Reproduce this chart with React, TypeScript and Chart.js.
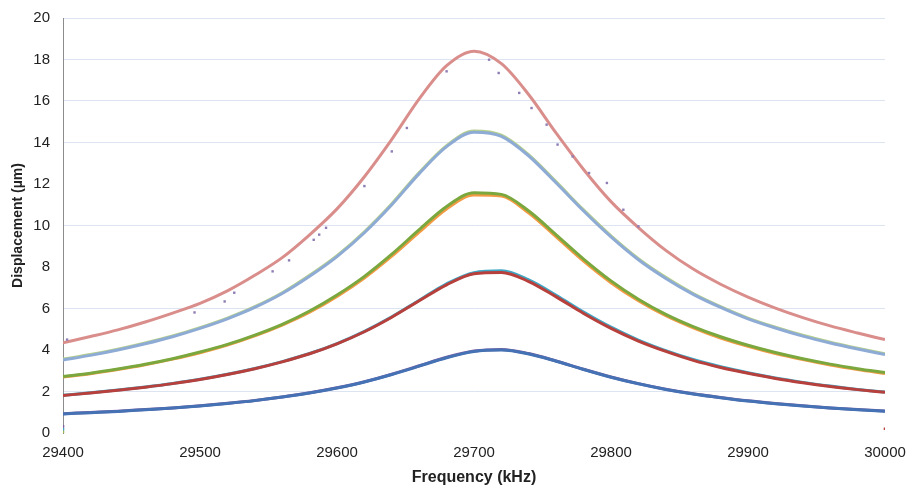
import React, { useEffect, useRef } from "react";
import { Chart, registerables } from "chart.js";

Chart.register(...registerables);

// Frequency samples (kHz)
const FREQ = [
  29400, 29420, 29440, 29460, 29480, 29500, 29520, 29540, 29560, 29580,
  29600, 29620, 29640, 29660, 29680, 29700, 29720, 29740, 29760, 29780,
  29800, 29820, 29840, 29860, 29880, 29900, 29920, 29940, 29960, 29980, 30000,
];

// Displacement (µm) series
const PINK = [
  4.35, 4.65, 4.97, 5.35, 5.78, 6.25, 6.85, 7.6, 8.45, 9.55,
  10.8, 12.35, 14.15, 16.1, 17.7, 18.4, 17.8, 16.3, 14.45, 12.7,
  11.15, 9.9, 8.8, 7.9, 7.17, 6.55, 6.02, 5.56, 5.16, 4.82, 4.5,
];
const LIGHT_BLUE = [
  3.52, 3.74, 4.0, 4.3, 4.64, 5.04, 5.5, 6.05, 6.72, 7.55,
  8.5, 9.65, 11.0, 12.5, 13.8, 14.5, 14.3, 13.35, 12.05, 10.7,
  9.45, 8.35, 7.45, 6.68, 6.05, 5.5, 5.06, 4.67, 4.34, 4.05, 3.78,
];
const LIGHT_GREEN = [
  3.56, 3.78, 4.04, 4.34, 4.68, 5.08, 5.54, 6.09, 6.76, 7.6,
  8.55, 9.7, 11.05, 12.55, 13.85, 14.55, 14.35, 13.4, 12.1, 10.75,
  9.5, 8.4, 7.5, 6.72, 6.09, 5.54, 5.1, 4.71, 4.38, 4.09, 3.82,
];
const GREEN = [
  2.72, 2.88, 3.08, 3.31, 3.58, 3.9, 4.27, 4.72, 5.24, 5.88,
  6.65, 7.55, 8.62, 9.8, 10.92, 11.58, 11.5, 10.7, 9.55, 8.38,
  7.33, 6.45, 5.72, 5.13, 4.64, 4.23, 3.88, 3.58, 3.32, 3.1, 2.91,
];
const ORANGE = [
  2.7, 2.86, 3.06, 3.29, 3.56, 3.87, 4.24, 4.68, 5.2, 5.82,
  6.58, 7.47, 8.52, 9.68, 10.8, 11.47, 11.42, 10.6, 9.45, 8.28,
  7.24, 6.37, 5.65, 5.07, 4.58, 4.18, 3.83, 3.54, 3.28, 3.06, 2.87,
];
const RED = [
  1.81, 1.93, 2.06, 2.21, 2.38, 2.58, 2.82, 3.1, 3.43, 3.82,
  4.3, 4.88, 5.58, 6.37, 7.14, 7.67, 7.74, 7.3, 6.56, 5.76,
  5.04, 4.43, 3.93, 3.5, 3.16, 2.88, 2.63, 2.42, 2.24, 2.09, 1.96,
];
const TEAL = [
  1.82, 1.94, 2.07, 2.22, 2.39, 2.59, 2.83, 3.11, 3.44, 3.83,
  4.31, 4.9, 5.6, 6.4, 7.19, 7.73, 7.82, 7.38, 6.64, 5.83,
  5.1, 4.48, 3.97, 3.54, 3.19, 2.9, 2.65, 2.44, 2.26, 2.1, 1.97,
];
const BLUE = [
  0.92, 0.98, 1.04, 1.12, 1.2, 1.3, 1.42, 1.56, 1.73, 1.93,
  2.17, 2.46, 2.82, 3.22, 3.63, 3.93, 4.0, 3.81, 3.46, 3.06,
  2.69, 2.37, 2.1, 1.88, 1.7, 1.54, 1.41, 1.3, 1.2, 1.12, 1.05,
];
const PURPLE = [
  0.93, 0.99, 1.05, 1.13, 1.21, 1.31, 1.43, 1.57, 1.74, 1.94,
  2.18, 2.47, 2.83, 3.24, 3.65, 3.95, 4.03, 3.83, 3.47, 3.07,
  2.7, 2.38, 2.11, 1.89, 1.71, 1.55, 1.42, 1.31, 1.21, 1.13, 1.06,
];

// Scattered measurement points near the top curve
const SCATTER_X = [
  29403, 29496, 29518, 29525, 29553, 29565, 29583, 29587, 29592, 29620,
  29640, 29651, 29680, 29711, 29718, 29733, 29742, 29753, 29761, 29772,
  29784, 29797, 29809, 29820,
];
const SCATTER_Y = [
  4.5, 5.81, 6.34, 6.76, 7.79, 8.32, 9.31, 9.56, 9.89, 11.9,
  13.57, 14.7, 17.43, 17.99, 17.35, 16.39, 15.66, 14.86, 13.9, 13.33,
  12.53, 12.05, 10.76, 9.96,
];

// Stray points at the axis ends
const STRAY_X = [29400, 29400, 29400, 30000];
const STRAY_Y = [0.32, 0.18, 0.05, 0.2];
const STRAY_COLORS = ["#7a5ea0", "#3fa7c4", "#9bbb59", "#b5403c"];

const X_TICKS = [29400, 29500, 29600, 29700, 29800, 29900, 30000];
const Y_TICKS = [0, 2, 4, 6, 8, 10, 12, 14, 16, 18, 20];
const HIDDEN_GRID = [0, 4, 8, 12];

const toPts = (ys: number[]) => FREQ.map((f, i) => ({ x: f, y: ys[i] }));

function line(label: string, ys: number[], color: string, width = 3) {
  return {
    type: "line" as const,
    label,
    data: toPts(ys),
    borderColor: color,
    backgroundColor: color,
    borderWidth: width,
    pointRadius: 0,
    cubicInterpolationMode: "monotone" as const,
    fill: false,
  };
}

export default function App() {
  const ref = useRef<HTMLCanvasElement | null>(null);

  useEffect(() => {
    if (!ref.current) return;
    const font = "'Liberation Sans', Arial, sans-serif";
    // first dataset is drawn on top
    const chart = new Chart(ref.current, {
      type: "line",
      data: {
        datasets: [
          {
            type: "scatter",
            label: "stray",
            data: STRAY_X.map((x, i) => ({ x, y: STRAY_Y[i] })),
            pointStyle: "rect",
            pointRadius: 1.8,
            pointBackgroundColor: STRAY_COLORS,
            pointBorderWidth: 0,
            showLine: false,
          } as any,
          line("P5", BLUE, "#4472b4", 3),
          line("P5b", PURPLE, "#7a5ea0", 3),
          line("P4", RED, "#b8403c", 3),
          line("P4b", TEAL, "#3fa7c4", 3),
          line("P3", GREEN, "#7aa83e", 3),
          line("P3b", ORANGE, "#f39a45", 3),
          line("P2", LIGHT_BLUE, "#8eabd6", 3),
          line("P2b", LIGHT_GREEN, "#b5cf8c", 3),
          {
            type: "scatter",
            label: "measured",
            data: SCATTER_X.map((x, i) => ({ x, y: SCATTER_Y[i] })),
            pointStyle: "rect",
            pointRadius: 1.7,
            pointBackgroundColor: "#8f7db5",
            pointBorderWidth: 0,
            showLine: false,
          } as any,
          line("P1", PINK, "#d98e8b", 3),
        ],
      },
      options: {
        animation: false,
        responsive: false,
        events: [],
        layout: { padding: { top: 18, right: 24, left: 0, bottom: 0 } },
        plugins: {
          legend: { display: false },
          tooltip: { enabled: false },
        },
        scales: {
          x: {
            type: "linear",
            min: 29400,
            max: 30000,
            afterFit: (s: any) => {
              s.height = 55;
            },
            afterBuildTicks: (s: any) => {
              s.ticks = X_TICKS.map((v) => ({ value: v }));
            },
            grid: {
              display: true,
              drawOnChartArea: false,
              drawTicks: true,
              tickLength: 11,
              tickColor: "rgba(0,0,0,0)",
              color: "rgba(0,0,0,0)",
            },
            border: { display: false },
            ticks: {
              padding: 0,
              color: "#222",
              font: { family: font, size: 15 },
              callback: (v: any) => String(v),
              maxRotation: 0,
              autoSkip: false,
            },
            title: {
              display: true,
              text: "Frequency (kHz)",
              color: "#222",
              font: { family: font, size: 16, weight: "bold" },
              padding: { top: 0, bottom: 1 },
            },
          },
          y: {
            type: "linear",
            min: 0,
            max: 20,
            afterFit: (s: any) => {
              s.width = 63;
            },
            afterBuildTicks: (s: any) => {
              s.ticks = Y_TICKS.map((v) => ({ value: v }));
            },
            grid: {
              drawTicks: true,
              tickLength: 13,
              tickColor: "rgba(0,0,0,0)",
              lineWidth: 1,
              color: (ctx: any) =>
                ctx.tick && HIDDEN_GRID.includes(ctx.tick.value)
                  ? "rgba(0,0,0,0)"
                  : "#dde4f1",
            },
            border: { display: true, color: "#8c8c8c", width: 1 },
            ticks: {
              padding: 0,
              color: "#222",
              font: { family: font, size: 15 },
              autoSkip: false,
            },
            title: {
              display: true,
              text: "Displacement (µm)",
              color: "#222",
              font: { family: font, size: 14, weight: "bold" },
              padding: { top: 10, bottom: 0 },
            },
          },
        },
      },
    });
    return () => chart.destroy();
  }, []);

  return (
    <div style={{ position: "fixed", left: 0, top: 0, width: 909, height: 488, background: "#fff" }}>
      <canvas ref={ref} width={909} height={488} style={{ width: 909, height: 488 }} />
    </div>
  );
}
